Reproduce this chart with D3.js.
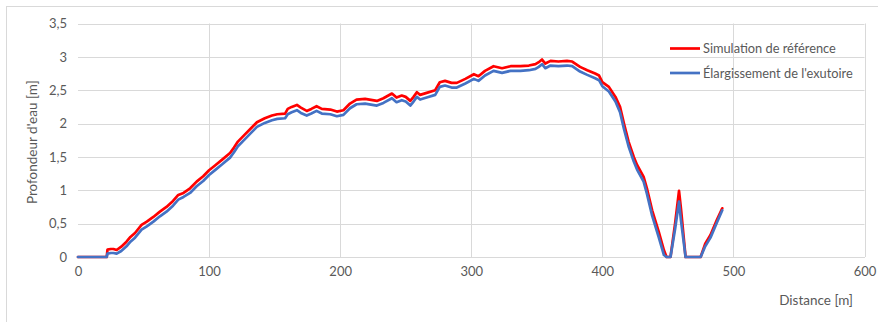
<!DOCTYPE html>
<html>
<head>
<meta charset="utf-8">
<script src="https://cdn.jsdelivr.net/npm/d3@7/dist/d3.min.js"></script>
<style>
  html, body { margin: 0; padding: 0; background: #fff; }
  svg { display: block; font-family: Lato, "Open Sans", sans-serif; }
</style>
</head>
<body>
<svg id="chart" width="878" height="322"></svg>
<script>
// Distance along the profile [m]
const distance = [0, 21.9, 22.5, 25, 27, 29.5, 33, 37, 40, 43.5, 48.5, 52.5, 57.5, 62.5, 67.5, 72.5, 76.5, 80.5, 85.5, 90.5, 95.5, 100, 105, 110, 116, 119, 122, 127, 132, 136.5, 142.5, 148, 152, 158, 160, 163, 167, 170, 174.5, 178, 182, 186, 192.5, 197.5, 202.5, 207.5, 212.5, 219, 228, 233, 239.5, 243, 247, 250, 253.5, 256, 258.5, 261, 266, 272.5, 276, 280, 285, 289, 295.5, 302, 305.5, 310.5, 317, 323.5, 330, 337.5, 344, 349, 351.5, 354, 356.5, 360.5, 366.5, 373, 377, 383, 388.5, 394.5, 397.5, 400, 405, 410, 413.5, 416.5, 420, 424, 426.5, 431.5, 434, 438, 443, 447, 449, 452, 455.5, 458.5, 460, 463.5, 475, 478.5, 482.5, 487.5, 491.5];

// Water depth, reference simulation [m]
const depthReference = [0, 0, 0.11, 0.12, 0.12, 0.105, 0.155, 0.23, 0.30, 0.36, 0.48, 0.53, 0.60, 0.68, 0.75, 0.84, 0.93, 0.96, 1.03, 1.13, 1.21, 1.30, 1.38, 1.46, 1.56, 1.64, 1.73, 1.83, 1.93, 2.02, 2.08, 2.12, 2.14, 2.15, 2.22, 2.25, 2.28, 2.24, 2.19, 2.22, 2.26, 2.22, 2.21, 2.18, 2.20, 2.30, 2.36, 2.37, 2.34, 2.38, 2.45, 2.39, 2.42, 2.40, 2.34, 2.40, 2.47, 2.43, 2.46, 2.50, 2.62, 2.64, 2.61, 2.61, 2.67, 2.74, 2.71, 2.79, 2.86, 2.83, 2.86, 2.86, 2.87, 2.89, 2.92, 2.96, 2.90, 2.94, 2.93, 2.94, 2.93, 2.85, 2.80, 2.75, 2.72, 2.62, 2.55, 2.40, 2.25, 2.00, 1.73, 1.50, 1.38, 1.20, 1.03, 0.70, 0.38, 0.10, 0, 0, 0.50, 0.99, 0.72, 0, 0, 0.20, 0.33, 0.56, 0.73];

// Water depth, widened outlet [m]
const depthWidened = [0, 0, 0.05, 0.06, 0.06, 0.05, 0.09, 0.16, 0.23, 0.29, 0.41, 0.46, 0.53, 0.61, 0.68, 0.77, 0.86, 0.90, 0.96, 1.06, 1.14, 1.23, 1.31, 1.39, 1.49, 1.57, 1.66, 1.76, 1.86, 1.95, 2.01, 2.05, 2.07, 2.08, 2.14, 2.17, 2.20, 2.16, 2.12, 2.15, 2.19, 2.15, 2.14, 2.11, 2.13, 2.23, 2.29, 2.30, 2.27, 2.31, 2.38, 2.32, 2.35, 2.33, 2.27, 2.33, 2.40, 2.36, 2.39, 2.43, 2.55, 2.57, 2.54, 2.54, 2.60, 2.67, 2.64, 2.72, 2.79, 2.76, 2.79, 2.79, 2.80, 2.82, 2.85, 2.89, 2.83, 2.87, 2.86, 2.87, 2.86, 2.78, 2.73, 2.68, 2.65, 2.56, 2.48, 2.33, 2.17, 1.92, 1.66, 1.43, 1.31, 1.13, 0.95, 0.62, 0.30, 0.03, 0, 0, 0.42, 0.83, 0.55, 0, 0, 0.16, 0.29, 0.52, 0.70];

const xTicks = [0, 100, 200, 300, 400, 500, 600];
const yTicks = [0, 0.5, 1, 1.5, 2, 2.5, 3, 3.5];
const seriesNames = ["Simulation de référence", "Élargissement de l'exutoire"];
const seriesColors = ["#ff0000", "#4472c4"];

const svg = d3.select("#chart");
const plot = { left: 78, right: 864.5, top: 23.5, bottom: 257 };

const x = d3.scaleLinear().domain([0, 600]).range([plot.left, plot.right]);
const y = d3.scaleLinear().domain([0, 3.5]).range([plot.bottom, plot.top]);

const fmt = v => String(v).replace(".", ",");

// chart frame
svg.append("rect")
  .attr("x", 6.5).attr("y", 6.5).attr("width", 900).attr("height", 340)
  .attr("fill", "none").attr("stroke", "#d9d9d9").attr("stroke-width", 1);

// horizontal gridlines
svg.append("g").selectAll("line").data(yTicks).join("line")
  .attr("x1", plot.left).attr("x2", plot.right)
  .attr("y1", d => Math.round(y(d)) + 0.5).attr("y2", d => Math.round(y(d)) + 0.5)
  .attr("stroke", "#d9d9d9").attr("stroke-width", 1);

// vertical gridlines
svg.append("g").selectAll("line").data(xTicks.slice(1)).join("line")
  .attr("x1", d => Math.round(x(d)) + 0.5).attr("x2", d => Math.round(x(d)) + 0.5)
  .attr("y1", plot.top).attr("y2", plot.bottom)
  .attr("stroke", "#d9d9d9").attr("stroke-width", 1);

// y axis labels
const yAxis = d3.axisLeft(y).tickValues(yTicks).tickFormat(fmt).tickSize(0).tickPadding(11);
const gy = svg.append("g").attr("transform", `translate(${plot.left},0)`).call(yAxis);
gy.select(".domain").remove();
gy.selectAll("text").attr("fill", "#595959").style("font-size", "13px").style("font-family", "Lato, sans-serif");

// x axis labels
const xAxis = d3.axisBottom(x).tickValues(xTicks).tickFormat(fmt).tickSize(0).tickPadding(10);
const gx = svg.append("g").attr("transform", `translate(0,${plot.bottom})`).call(xAxis);
gx.select(".domain").attr("stroke", "#d9d9d9");
gx.selectAll("text").attr("fill", "#595959").style("font-size", "13px").style("font-family", "Lato, sans-serif");

// series lines
const line = d3.line().x((d, i) => x(distance[i])).y(d => y(d));
[depthReference, depthWidened].forEach((vals, k) => {
  svg.append("path")
    .datum(vals)
    .attr("d", line)
    .attr("fill", "none")
    .attr("stroke", seriesColors[k])
    .attr("stroke-width", 2.7)
    .attr("stroke-linejoin", "round")
    .attr("stroke-linecap", "round");
});

// axis titles
svg.append("text")
  .attr("transform", `translate(37,${(plot.top + plot.bottom) / 2 + 2}) rotate(-90)`)
  .attr("text-anchor", "middle")
  .attr("fill", "#595959")
  .style("font-size", "13.5px")
  .text("Profondeur d'eau [m]");

svg.append("text")
  .attr("x", 853).attr("y", 305)
  .attr("text-anchor", "end")
  .attr("fill", "#595959")
  .style("font-size", "13.5px")
  .text("Distance [m]");

// legend
const legend = svg.append("g");
seriesNames.forEach((name, k) => {
  const ly = 48.5 + k * 24.5;
  legend.append("line")
    .attr("x1", 670).attr("x2", 700).attr("y1", ly).attr("y2", ly)
    .attr("stroke", seriesColors[k]).attr("stroke-width", 2.7);
  legend.append("text")
    .attr("x", 703).attr("y", ly + 4.5)
    .attr("fill", "#595959")
    .style("font-size", "12.8px")
    .text(name);
});
</script>
</body>
</html>
